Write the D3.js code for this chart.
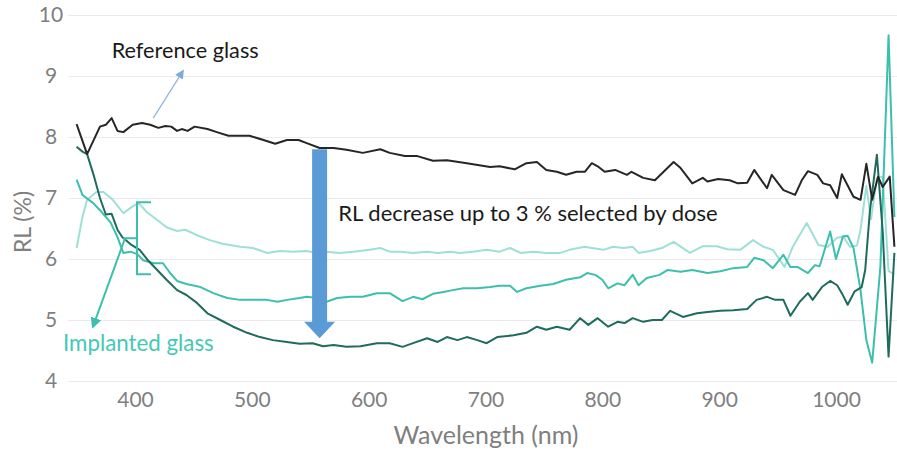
<!DOCTYPE html>
<html>
<head>
<meta charset="utf-8">
<script src="https://cdn.jsdelivr.net/npm/d3@7"></script>
<style>
  body { margin: 0; background: #fff; }
  svg { display: block; font-family: Lato, "Open Sans", sans-serif; }
</style>
</head>
<body>
<svg id="chart"></svg>
<script>
// RL spectra: [wavelength nm, RL %]
const referenceGlass = [[350,8.21],[359,7.72],[370,8.17],[375,8.2],[380,8.31],[385,8.1],[390,8.08],[398,8.2],[406,8.23],[413,8.2],[420,8.15],[426,8.18],[431,8.17],[436,8.1],[440,8.13],[445,8.1],[451,8.17],[462,8.13],[470,8.08],[480,8.02],[490,8.02],[498,8.02],[510,7.95],[520,7.89],[530,7.95],[540,7.95],[547,7.9],[558,7.82],[570,7.82],[581,7.79],[595,7.74],[610,7.8],[618,7.74],[631,7.69],[641,7.69],[655,7.61],[667,7.62],[684,7.57],[704,7.51],[712,7.52],[725,7.47],[735,7.57],[744,7.59],[752,7.46],[761,7.43],[769,7.38],[778,7.43],[785,7.43],[791,7.57],[796,7.52],[802,7.43],[811,7.46],[821,7.38],[825,7.43],[835,7.33],[845,7.29],[861,7.59],[867,7.49],[877,7.24],[886,7.33],[890,7.27],[899,7.31],[909,7.29],[916,7.24],[924,7.25],[930,7.46],[941,7.16],[945,7.38],[955,7.13],[965,7.05],[971,7.3],[976,7.44],[984,7.38],[989,7.24],[995,7.21],[1001,7.0],[1005,7.39],[1015,7.02],[1021,6.97],[1026,7.56],[1031,6.97],[1036,7.35],[1040,7.18],[1046,7.35],[1050,6.2]];

const doseHigh = [[350,7.84],[355,7.76],[359,7.72],[365,7.35],[370,7.0],[375,6.73],[380,6.74],[385,6.48],[389,6.36],[397,6.23],[404,6.15],[411,5.98],[419,5.82],[427,5.66],[436,5.49],[444,5.41],[453,5.28],[462,5.11],[473,5.0],[484,4.89],[496,4.79],[507,4.72],[518,4.67],[530,4.64],[541,4.61],[552,4.62],[561,4.57],[570,4.59],[581,4.56],[593,4.57],[607,4.62],[618,4.62],[629,4.56],[638,4.62],[650,4.7],[659,4.64],[667,4.72],[676,4.67],[684,4.72],[693,4.67],[701,4.62],[710,4.72],[724,4.75],[735,4.79],[744,4.89],[752,4.84],[761,4.89],[772,4.84],[781,5.03],[788,4.92],[796,5.03],[805,4.89],[813,4.97],[819,4.95],[826,5.03],[835,4.97],[843,5.0],[851,5.0],[858,5.15],[869,5.05],[881,5.11],[890,5.13],[901,5.15],[912,5.16],[924,5.18],[932,5.33],[941,5.38],[948,5.33],[955,5.33],[961,5.07],[969,5.3],[976,5.44],[980,5.33],[988,5.54],[995,5.64],[1001,5.57],[1005,5.44],[1010,5.25],[1016,5.47],[1022,5.54],[1025,5.82],[1029,6.78],[1035,7.71],[1040,6.45],[1045,4.4],[1050,6.1]];

const doseMid = [[350,7.3],[355,7.05],[364,6.92],[370,6.8],[379,6.6],[385,6.36],[390,6.1],[396,6.12],[402,6.08],[407,5.98],[416,5.93],[424,5.93],[430,5.77],[436,5.64],[444,5.59],[456,5.54],[467,5.44],[479,5.36],[490,5.33],[501,5.33],[513,5.33],[522,5.3],[530,5.33],[541,5.36],[547,5.38],[556,5.36],[564,5.3],[573,5.36],[584,5.38],[595,5.38],[607,5.44],[618,5.44],[629,5.31],[638,5.38],[646,5.34],[655,5.43],[664,5.46],[672,5.49],[681,5.52],[693,5.52],[704,5.54],[712,5.56],[721,5.56],[727,5.46],[735,5.52],[747,5.56],[758,5.59],[769,5.66],[781,5.7],[787,5.77],[794,5.74],[800,5.66],[805,5.52],[813,5.6],[819,5.57],[826,5.74],[831,5.57],[838,5.69],[849,5.74],[856,5.82],[867,5.79],[877,5.82],[890,5.77],[901,5.8],[912,5.85],[924,5.87],[930,6.02],[938,5.98],[946,5.85],[955,6.07],[961,5.87],[967,5.87],[976,5.77],[982,5.9],[986,5.88],[995,6.45],[1000,6.0],[1006,6.37],[1010,6.38],[1015,6.18],[1021,5.49],[1026,4.67],[1031,4.3],[1038,5.87],[1045,9.67],[1050,6.69]];

const doseLow = [[350,6.18],[355,6.69],[359,6.97],[367,7.1],[373,7.1],[381,6.97],[390,6.75],[397,6.85],[403,6.92],[410,6.77],[419,6.64],[427,6.52],[436,6.46],[443,6.48],[453,6.39],[464,6.31],[475,6.25],[490,6.2],[501,6.18],[513,6.1],[524,6.13],[535,6.12],[547,6.13],[556,6.1],[564,6.12],[575,6.1],[587,6.12],[601,6.15],[610,6.18],[618,6.12],[627,6.12],[638,6.1],[650,6.12],[659,6.1],[670,6.12],[678,6.1],[689,6.12],[701,6.15],[712,6.12],[721,6.18],[730,6.1],[741,6.12],[752,6.1],[764,6.1],[772,6.15],[785,6.2],[791,6.18],[801,6.15],[809,6.2],[818,6.18],[826,6.2],[831,6.1],[841,6.13],[851,6.18],[861,6.28],[875,6.1],[886,6.21],[898,6.21],[907,6.16],[918,6.15],[929,6.31],[938,6.2],[946,6.15],[956,5.87],[963,6.2],[975,6.59],[985,6.23],[993,6.2],[1001,6.35],[1006,6.37],[1012,6.2],[1018,6.22],[1021,6.48],[1026,7.2],[1030,6.65],[1035,7.33],[1040,7.35],[1045,5.8],[1050,5.75]];

const xTicks = [400, 500, 600, 700, 800, 900, 1000];
const yTicks = [4, 5, 6, 7, 8, 9, 10];

const W = 897, H = 454;
const svg = d3.select("#chart").attr("width", W).attr("height", H);

const x = d3.scaleLinear().domain([350, 1050]).range([76.6, 894.4]);
const y = d3.scaleLinear().domain([4, 10]).range([381, 15]);
const gridLeft = 68;

// horizontal gridlines + y labels
const yAxis = svg.append("g")
    .attr("transform", `translate(${gridLeft},0)`)
    .call(d3.axisLeft(y).tickValues(yTicks).tickFormat(d3.format("d"))
        .tickSize(-(W - gridLeft)).tickPadding(0));
yAxis.select(".domain").remove();
yAxis.selectAll(".tick line").attr("stroke", "#ebebeb").attr("stroke-width", 1);
yAxis.selectAll(".tick text")
    .attr("x", -17)
    .attr("text-anchor", "middle")
    .attr("font-family", "Lato, 'Open Sans', sans-serif")
    .attr("font-size", "21px")
    .attr("fill", "#7f7f7f");

// x labels, no axis line
const xAxis = svg.append("g")
    .attr("transform", `translate(0,${y(4)})`)
    .call(d3.axisBottom(x).tickValues(xTicks).tickFormat(d3.format("d"))
        .tickSize(0).tickPadding(11));
xAxis.select(".domain").remove();
xAxis.selectAll(".tick text")
    .attr("font-family", "Lato, 'Open Sans', sans-serif")
    .attr("font-size", "21px")
    .attr("fill", "#7f7f7f");

svg.append("text")
    .attr("x", 486).attr("y", 444)
    .attr("text-anchor", "middle")
    .attr("font-size", "25px")
    .attr("fill", "#7f7f7f")
    .text("Wavelength (nm)");

svg.append("text")
    .attr("transform", "translate(31,222) rotate(-90)")
    .attr("text-anchor", "middle")
    .attr("font-size", "23px")
    .attr("fill", "#7f7f7f")
    .text("RL (%)");

// spectra
const line = d3.line().x(d => x(d[0])).y(d => y(d[1]));
const series = [
    { data: doseLow, color: "#9fe0d6" },
    { data: doseMid, color: "#3cc0ad" },
    { data: doseHigh, color: "#1f6b5d" },
    { data: referenceGlass, color: "#262626" }
];
svg.append("g").selectAll("path")
    .data(series)
    .enter()
    .append("path")
    .attr("d", d => line(d.data))
    .attr("fill", "none")
    .attr("stroke", d => d.color)
    .attr("stroke-width", 2)
    .attr("stroke-linejoin", "round");

// arrow markers
const defs = svg.append("defs");
defs.append("marker")
    .attr("id", "headBlue")
    .attr("viewBox", "0 0 10 10").attr("refX", 8).attr("refY", 5)
    .attr("markerWidth", 9).attr("markerHeight", 9)
    .attr("markerUnits", "userSpaceOnUse")
    .attr("orient", "auto")
    .append("path").attr("d", "M0,0L10,5L0,10z").attr("fill", "#7fa9dc");
defs.append("marker")
    .attr("id", "headTeal")
    .attr("viewBox", "0 0 10 10").attr("refX", 8).attr("refY", 5)
    .attr("markerWidth", 11).attr("markerHeight", 11)
    .attr("markerUnits", "userSpaceOnUse")
    .attr("orient", "auto")
    .append("path").attr("d", "M0,0L10,5L0,10z").attr("fill", "#3cc0ad");

// Reference glass label + pointer
svg.append("text")
    .attr("x", x(380)).attr("y", y(9.3))
    .attr("font-size", "21.7px")
    .attr("fill", "#1a1a1a")
    .text("Reference glass");
svg.append("line")
    .attr("x1", x(415.6)).attr("y1", y(8.31))
    .attr("x2", x(441)).attr("y2", y(9.08))
    .attr("stroke", "#8fb4e0").attr("stroke-width", 1.2)
    .attr("marker-end", "url(#headBlue)");

// Implanted glass bracket, pointer and label
const teal = "#3cc0ad";
svg.append("path")
    .attr("d", `M${x(413.7)},${y(6.93)}H${x(401.7)}V${y(5.75)}H${x(413.7)}`
        + `M${x(390)},${y(6.34)}H${x(401.7)}`)
    .attr("fill", "none").attr("stroke", teal).attr("stroke-width", 2);
svg.append("line")
    .attr("x1", x(391.5)).attr("y1", y(6.34))
    .attr("x2", x(364)).attr("y2", y(4.89))
    .attr("stroke", teal).attr("stroke-width", 2)
    .attr("marker-end", "url(#headTeal)");
svg.append("text")
    .attr("x", x(338.4)).attr("y", y(4.5))
    .attr("font-size", "22.3px")
    .attr("fill", "#45c8b6")
    .text("Implanted glass");

// big down arrow
const ax = x(558), shaftHalf = 7.5, headHalf = 15.5;
const arrowTop = y(7.8), headBase = y(4.97), arrowTip = y(4.7);
svg.append("path")
    .attr("d", `M${ax - shaftHalf},${arrowTop}H${ax + shaftHalf}V${headBase}H${ax + headHalf}`
        + `L${ax},${arrowTip}L${ax - headHalf},${headBase}H${ax - shaftHalf}Z`)
    .attr("fill", "#5b9bd5");

svg.append("text")
    .attr("x", x(574)).attr("y", y(6.63))
    .attr("font-size", "22px")
    .attr("fill", "#1a1a1a")
    .text("RL decrease up to 3 % selected by dose");
</script>
</body>
</html>
